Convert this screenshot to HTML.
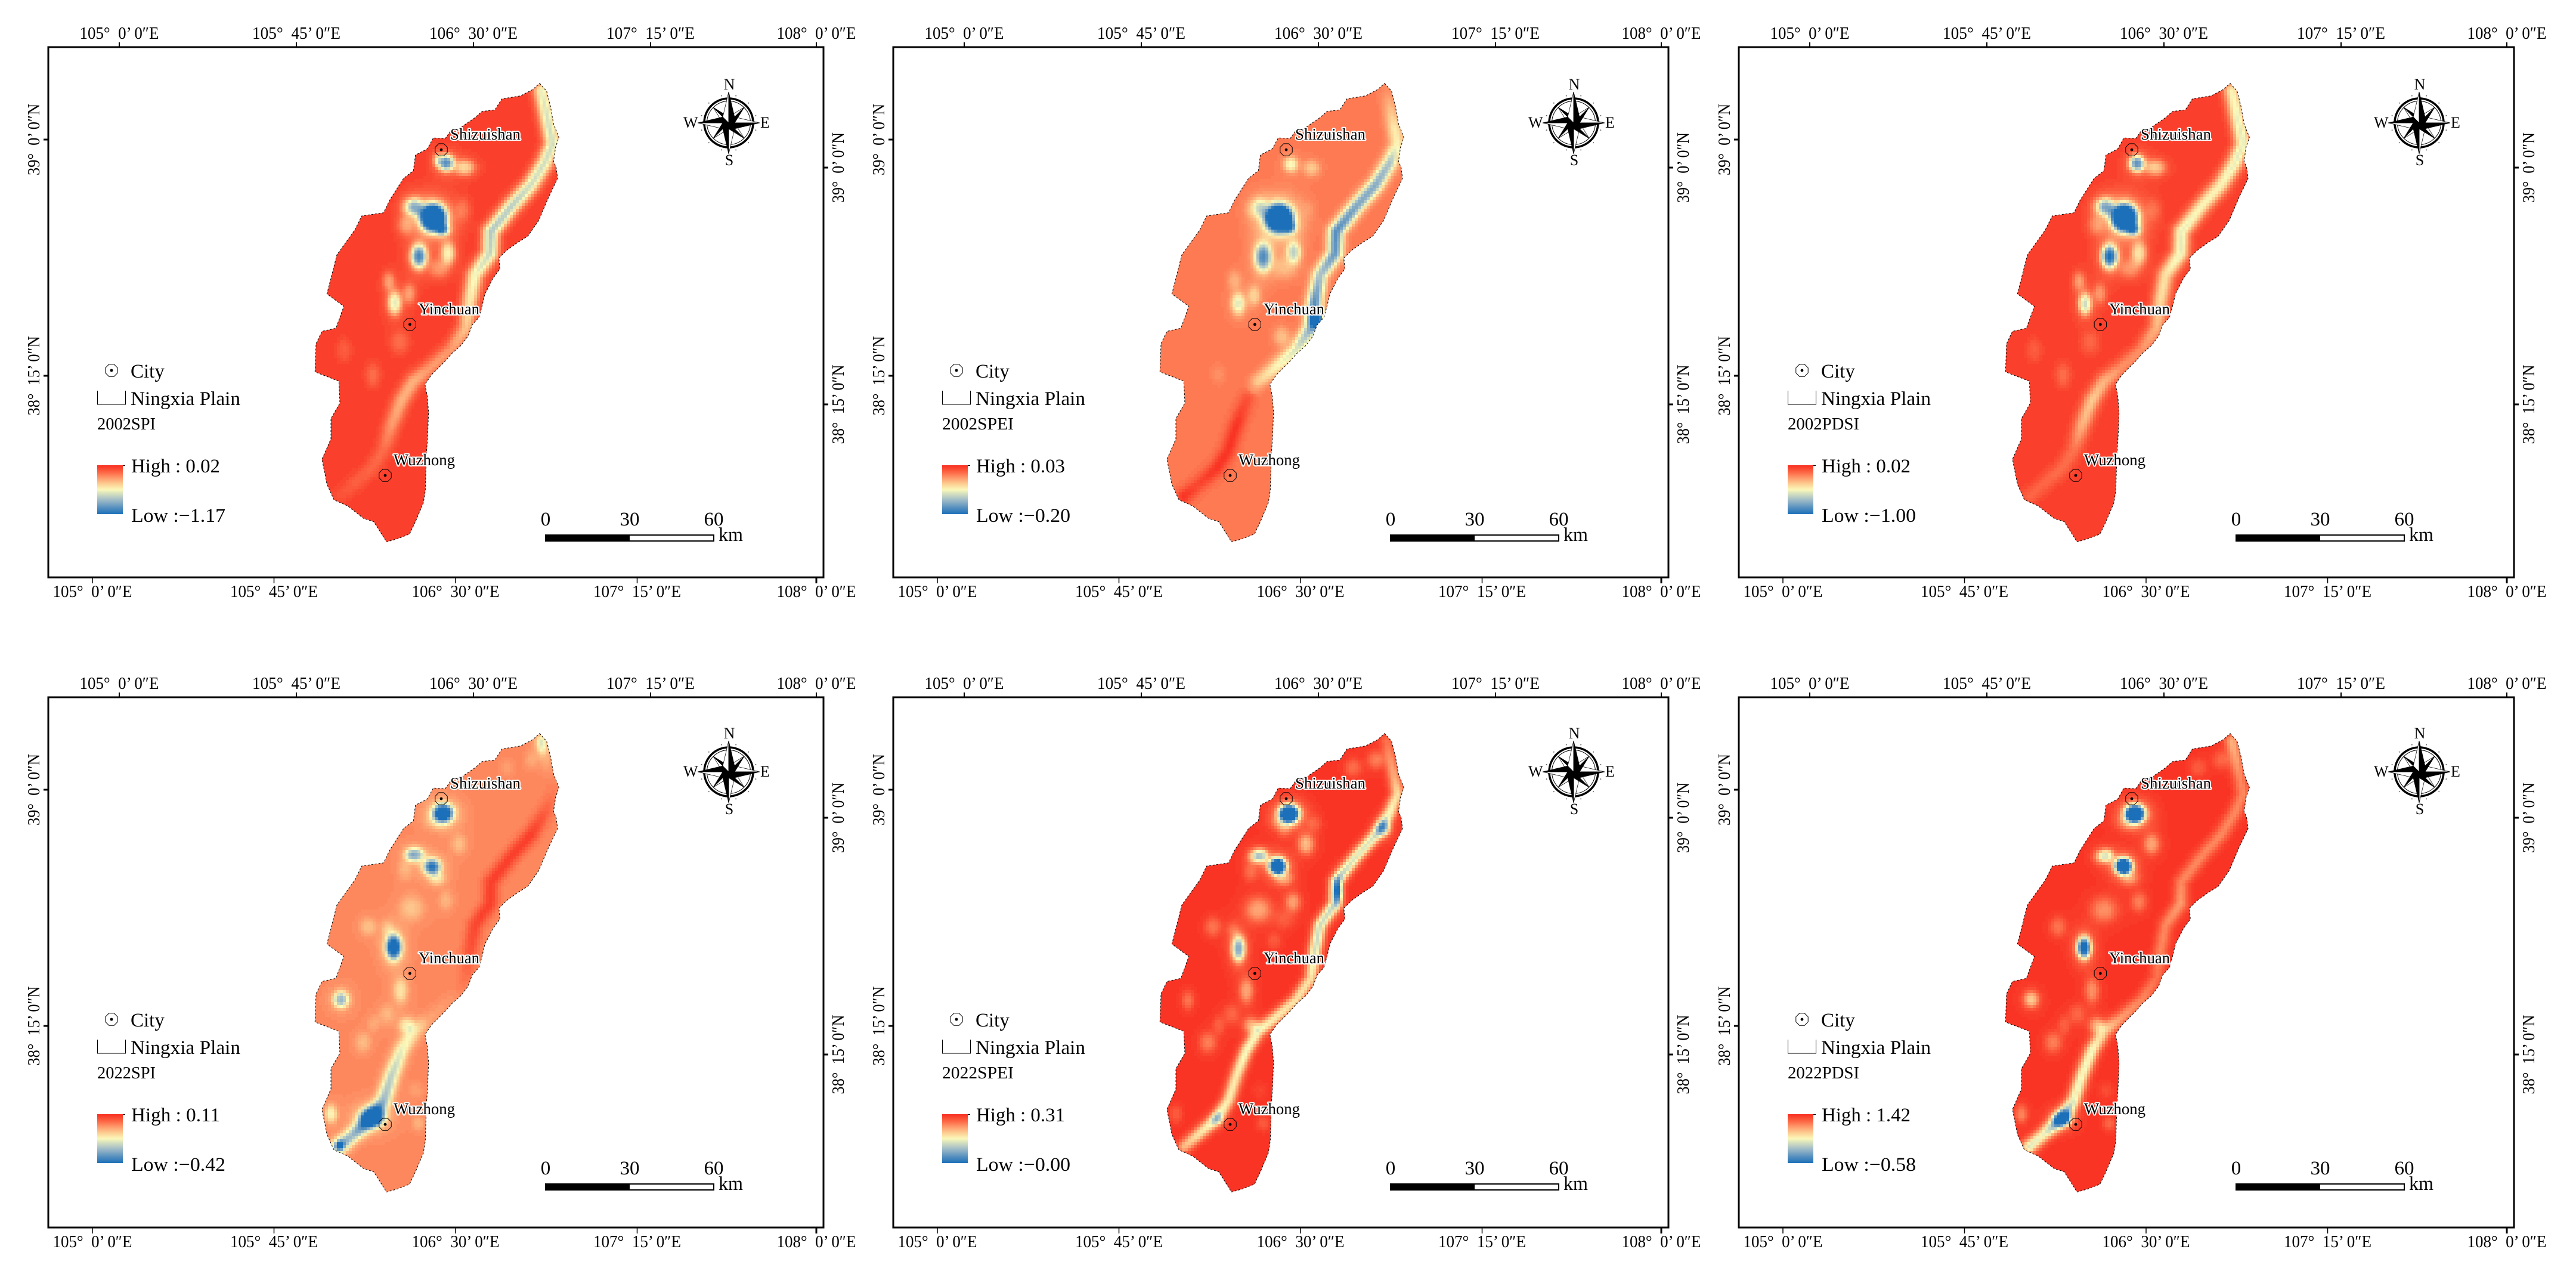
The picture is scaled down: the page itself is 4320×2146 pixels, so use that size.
<!DOCTYPE html>
<html lang="en">
<head>
<meta charset="utf-8">
<title>Ningxia Plain drought index maps, 2002 and 2022</title>
<style>
html,body{margin:0;padding:0;background:#fff;width:4320px;height:2146px;overflow:hidden}
svg{display:block}
text{font-family:"Liberation Serif","DejaVu Serif",serif;fill:#000}
</style>
</head>
<body>
<svg id="figure" xmlns="http://www.w3.org/2000/svg" width="4320" height="2146" viewBox="0 0 4320 2146"></svg>
<script>
// ---- panel labels and legend values ----
const panelTitles = ["2002SPI","2002SPEI","2002PDSI","2022SPI","2022SPEI","2022PDSI"];
const highLabels = ["0.02","0.03","0.02","0.11","0.31","1.42"];
const lowLabels = ["\u22121.17","\u22120.20","\u22121.00","\u22120.42","\u22120.00","\u22120.58"];
const topLongitudes = [105,105.75,106.5,107.25,108];
const bottomLongitudes = [105,105.75,106.5,107.25,108];
const latitudes = [39,38.25];
const lonLabels = ["105\u00b0\u00a0\u00a00\u2019 0\u2033E","105\u00b0\u00a0\u00a045\u2019 0\u2033E","106\u00b0\u00a0\u00a030\u2019 0\u2033E","107\u00b0\u00a0\u00a015\u2019 0\u2033E","108\u00b0\u00a0\u00a00\u2019 0\u2033E"];
const latLabels = ["39\u00b0\u00a0\u00a00\u2019 0\u2033N","38\u00b0\u00a0\u00a015\u2019 0\u2033N"];
const scaleLabels = ["0","30","60"];
const scaleKm = [0,30,60];

// ---- map geometry in raster grid units (column, row) ----
const plainOutline = [[1275,95],[1310,120],[1330,170],[1345,225],[1372,268],[1355,300],[1345,345],[1358,365],[1365,400],[1320,460],[1290,505],[1270,535],[1215,585],[1165,605],[1110,630],[1070,655],[1075,690],[1040,720],[1000,770],[985,810],[970,845],[935,870],[915,905],[880,935],[835,960],[800,985],[730,1030],[698,1060],[710,1100],[716,1150],[712,1220],[705,1290],[700,1400],[690,1440],[650,1500],[620,1540],[560,1555],[505,1565],[470,1530],[440,1500],[390,1490],[310,1450],[240,1430],[205,1380],[180,1300],[225,1235],[225,1170],[270,1120],[265,1050],[225,1040],[145,1020],[150,930],[180,890],[250,880],[290,810],[205,770],[255,645],[345,565],[380,520],[490,510],[520,470],[590,400],[640,375],[650,325],[710,305],[740,270],[800,272],[830,245],[870,240],[950,205],[985,185],[1050,180],[1085,145],[1180,135],[1240,115]];
const riverCourse = [[1285,120],[1325,240],[1340,290],[1300,350],[1230,420],[1130,490],[1030,570],[1025,640],[950,710],[925,790],[905,880],[830,950],[720,1010],[640,1050],[580,1110],[530,1190],[490,1270],[430,1330],[330,1385],[265,1420]];
const cityNames = ["Shizuishan","Yinchuan","Wuzhong"];
const cityColumns = [780,622,498];
const cityRows = [308,868,1352];

// ---- raster values: background level, river anomaly per vertex, station anomalies ----
// level 1 = high (red), 0.5 = mid (yellow), 0 = low (blue)
const baseLevels = [0.96,0.815,0.96,0.78,0.985,0.985];
const riverWidths = [14,13,14,13,11,12];
const riverDepth2002SPI = [0.5,0.55,0.55,0.55,0.55,0.6,0.62,0.58,0.48,0.42,0.32,0.22,0.22,0.28,0.28,0.22,0.12,0.1,0.08,0.05];
const riverDepth2002SPEI = [0.05,0.28,0.3,0.5,0.58,0.6,0.68,0.65,0.5,0.65,0.55,0.38,0.3,0.2,-0.1,-0.17,-0.17,-0.17,-0.12,-0.17];
const riverDepth2002PDSI = [0.45,0.5,0.5,0.5,0.45,0.45,0.5,0.5,0.4,0.38,0.28,0.2,0.2,0.28,0.33,0.28,0.13,0.12,0.1,0.1];
const riverDepth2022SPI = [0.15,0,-0.03,-0.1,-0.18,-0.18,-0.18,-0.18,-0.16,-0.13,-0.05,0.03,0.06,0.22,0.32,0.42,0.48,0.65,0.48,0.55];
const riverDepth2022SPEI = [0.15,0.3,0.42,0.48,0.55,0.55,0.6,0.6,0.58,0.58,0.42,0.42,0.45,0.45,0.5,0.45,0.45,0.5,0.42,0.32];
const riverDepth2022PDSI = [0.3,0.2,0.2,0.2,0.2,0.2,0.2,0.25,0.2,0.2,0.15,0.2,0.25,0.35,0.5,0.5,0.52,0.7,0.5,0.55];
const stations2002SPI = [[740,525,62,42,1.7],[790,565,32,18,0.55],[805,350,40,26,0.8],[900,365,50,25,0.35],[760,340,20,20,0.25],[650,490,38,28,0.5],[610,490,35,28,0.22],[668,650,40,38,0.85],[815,640,36,36,0.42],[770,690,50,30,0.18],[545,800,35,38,0.5],[515,730,30,30,0.22],[620,770,32,32,0.22],[890,500,36,36,0.12],[290,950,36,36,0.08],[435,1030,36,36,0.12],[570,925,45,35,0.12],[600,550,40,30,0.18]];
const stations2002SPEI = [[744,527,65,42,1.6],[799,557,30,18,0.45],[804,355,35,24,0.32],[909,367,40,24,0.18],[649,492,35,30,0.28],[609,497,35,30,0.1],[664,652,42,45,0.68],[819,637,35,35,0.42],[769,687,60,35,0.13],[539,802,35,35,0.36],[519,727,32,30,0.12],[619,777,32,32,0.2],[759,907,40,30,0.16],[439,1027,36,30,0.05],[894,497,30,30,0.04],[934,852,30,28,0.7]];
const stations2002PDSI = [[742,525,62,42,1.7],[790,565,32,18,0.55],[805,352,38,26,0.8],[900,365,50,25,0.32],[650,490,38,28,0.55],[610,490,35,28,0.18],[668,650,40,38,0.95],[815,640,38,38,0.38],[770,690,50,30,0.18],[545,803,33,35,0.55],[515,730,30,30,0.22],[620,770,32,32,0.2],[890,500,36,36,0.1],[290,950,36,36,0.08],[435,1030,36,36,0.12],[570,925,45,35,0.1],[600,550,40,30,0.16]];
const stations2022SPI = [[790,350,50,28,1.0],[770,375,60,25,0.13],[650,483,42,22,0.5],[615,485,25,20,0.13],[735,522,42,25,0.75],[760,560,40,20,0.18],[870,450,38,30,0.12],[595,535,35,30,0.09],[630,655,60,40,0.14],[805,630,35,30,0.1],[410,715,40,28,0.13],[540,780,38,38,1.0],[510,720,30,25,0.1],[275,948,38,26,0.5],[575,920,35,40,0.22],[385,1085,38,30,0.12],[505,995,40,30,0.1],[440,1025,30,25,0.07],[605,1030,40,25,0.22],[225,1315,30,28,0.27],[665,1345,30,22,0.1],[650,1240,35,25,0.05],[1230,180,30,25,0.07],[1110,205,30,25,0.05],[1285,130,25,30,0.2],[430,1325,60,30,0.85],[270,1415,20,15,0.35]];
const stations2022SPEI = [[795,352,50,28,1.4],[770,380,60,25,0.18],[880,450,40,32,0.32],[920,385,35,25,0.1],[770,405,30,25,0.1],[650,487,38,22,0.6],[610,490,30,22,0.18],[738,520,42,26,1.4],[770,560,45,22,0.22],[600,540,35,28,0.13],[640,660,65,40,0.27],[815,635,38,30,0.25],[410,715,40,30,0.16],[770,690,50,30,0.09],[540,785,35,42,0.75],[510,725,30,25,0.1],[720,760,35,25,0.09],[285,950,30,28,0.16],[580,920,35,40,0.27],[385,1085,42,32,0.18],[505,995,40,30,0.12],[440,1030,30,30,0.1],[605,1030,40,25,0.27],[225,1315,30,28,0.1],[665,1345,30,22,0.1],[650,1240,35,25,0.04],[1230,180,40,28,0.18],[1115,205,40,28,0.14],[1040,600,20,40,0.5],[1270,400,35,25,0.45],[430,1330,30,20,0.25]];
const stations2022PDSI = [[795,352,50,28,1.4],[770,380,60,25,0.18],[650,487,38,22,0.5],[610,490,30,22,0.13],[738,520,42,26,1.4],[770,560,45,22,0.18],[540,782,35,35,1.1],[275,948,38,26,0.36],[430,1330,45,25,0.75],[880,450,40,32,0.27],[640,660,65,40,0.22],[815,635,38,30,0.18],[410,715,40,30,0.16],[580,920,35,40,0.22],[385,1085,42,32,0.18],[505,995,40,30,0.12],[440,1030,30,30,0.1],[605,1030,40,25,0.27],[225,1315,30,28,0.2],[665,1345,30,22,0.13],[650,1240,35,25,0.06],[1230,180,40,28,0.12],[1115,205,40,28,0.1]];
const riverDepths = [riverDepth2002SPI,riverDepth2002SPEI,riverDepth2002PDSI,riverDepth2022SPI,riverDepth2022SPEI,riverDepth2022PDSI];
const stationSets = [stations2002SPI,stations2002SPEI,stations2002PDSI,stations2022SPI,stations2022SPEI,stations2022PDSI];

// ---- colour ramp ----
const rampLevels = [0,0.12,0.3,0.42,0.5,0.62,0.75,0.85,1];
const rampColors = [[28,112,185],[80,140,190],[165,190,200],[215,225,190],[251,248,186],[253,205,145],[254,150,105],[253,105,70],[248,46,32]];

// ---- layout functions ----
const NS = "http://www.w3.org/2000/svg";
const svg = document.getElementById("figure");
const gx = col => 480 + col / 3;
const gy = row => 90 + row / 1.912;
const topX = lon => Math.min(1369, 200 + (lon - 105) * 396);
const bottomX = lon => Math.min(1369, 155 + (lon - 105) * 406);
const leftY = lat => 234 + (39 - lat) * 528;
const rightY = lat => 281 + (39 - lat) * 529.3;
const scaleX = km => 915 + km * 4.7;

function make(tag, attrs, parent) {
  const el = document.createElementNS(NS, tag);
  for (const k in attrs) el.setAttribute(k, attrs[k]);
  parent.appendChild(el);
  return el;
}
function addText(parent, str, x, y, size, len, anchor) {
  const attrs = {x: x, y: y, "font-size": size, "text-anchor": anchor || "start"};
  if (len) { attrs.textLength = len; attrs.lengthAdjust = "spacingAndGlyphs"; }
  const el = make("text", attrs, parent);
  el.textContent = str;
  return el;
}
function rampColor(t) {
  t = Math.max(0, Math.min(1, t));
  for (let i = 1; i < rampLevels.length; i++) {
    if (t <= rampLevels[i]) {
      const f = (t - rampLevels[i - 1]) / (rampLevels[i] - rampLevels[i - 1]);
      const a = rampColors[i - 1], b = rampColors[i];
      return "rgb(" + Math.round(a[0] + (b[0] - a[0]) * f) + "," + Math.round(a[1] + (b[1] - a[1]) * f) + "," + Math.round(a[2] + (b[2] - a[2]) * f) + ")";
    }
  }
  return "rgb(248,46,32)";
}
function stationFalloff(r) { return 0.82 * Math.exp(-Math.pow(r, 2.6)) + 0.18 * Math.exp(-Math.pow(r / 1.7, 2)); }
function riverFalloff(r) { return Math.exp(-r * r); }
function fieldAt(col, row, p) {
  let t = baseLevels[p];
  const stations = stationSets[p];
  for (const s of stations) {
    const r = Math.hypot((col - s[0]) / s[2], (row - s[1]) / s[3]);
    if (r < 4) t -= s[4] * stationFalloff(r);
  }
  const depth = riverDepths[p], w = riverWidths[p];
  const px = col / 3, py = row / 1.912;
  let best = 0;
  for (let i = 0; i < riverCourse.length - 1; i++) {
    const ax = riverCourse[i][0] / 3, ay = riverCourse[i][1] / 1.912;
    const bx = riverCourse[i + 1][0] / 3, by = riverCourse[i + 1][1] / 1.912;
    const vx = bx - ax, vy = by - ay;
    let u = ((px - ax) * vx + (py - ay) * vy) / (vx * vx + vy * vy);
    u = Math.max(0, Math.min(1, u));
    const d = Math.hypot(px - ax - u * vx, py - ay - u * vy);
    if (d > w * 3) continue;
    const c = (depth[i] + (depth[i + 1] - depth[i]) * u) * riverFalloff(d / w);
    if (Math.abs(c) > Math.abs(best)) best = c;
  }
  return t - best;
}

// ---- shared defs ----
const defs = make("defs", {}, svg);
const colorbarGradient = make("linearGradient", {id: "ramp", x1: 0, y1: 0, x2: 0, y2: 1}, defs);
for (let i = rampLevels.length - 1; i >= 0; i--) {
  const c = rampColors[i];
  make("stop", {offset: 1 - rampLevels[i], "stop-color": "rgb(" + c.join(",") + ")"}, colorbarGradient);
}
const clip = make("clipPath", {id: "plain-clip"}, defs);
const outlinePoints = plainOutline.map(v => gx(v[0]).toFixed(1) + "," + gy(v[1]).toFixed(1)).join(" ");
make("polygon", {points: outlinePoints}, clip);

function octagon(cx, cy, r) {
  const pts = [];
  for (let i = 0; i < 8; i++) {
    const a = Math.PI / 8 + i * Math.PI / 4;
    pts.push((cx + r * Math.cos(a)).toFixed(1) + "," + (cy + r * Math.sin(a)).toFixed(1));
  }
  return pts.join(" ");
}

function drawCompass(parent, cx, cy) {
  const g = make("g", {}, parent);
  
  
  make("circle", {cx: cx, cy: cy, r: 41, fill: "none", stroke: "#000", "stroke-width": 3.5}, g);
  make("circle", {cx: cx, cy: cy, r: 36.5, fill: "none", stroke: "#000", "stroke-width": 1}, g);
  for (let i = 0; i < 12; i++) {
    const a = i * Math.PI / 6 + Math.PI / 12;
    make("circle", {cx: cx + 47 * Math.cos(a), cy: cy + 47 * Math.sin(a), r: 1, fill: "#666"}, g);
  }
  for (let i = 7; i >= 0; i--) {
    const a = i * Math.PI / 4 - Math.PI / 2;
    const len = i % 2 ? 37 : 52;
    const waist = i % 2 ? 10 : 14;
    const tipX = cx + len * Math.cos(a), tipY = cy + len * Math.sin(a);
    const lx = cx + waist * Math.cos(a - Math.PI / 4), ly = cy + waist * Math.sin(a - Math.PI / 4);
    const rx = cx + waist * Math.cos(a + Math.PI / 4), ry = cy + waist * Math.sin(a + Math.PI / 4);
    make("polygon", {points: cx + "," + cy + " " + tipX + "," + tipY + " " + lx + "," + ly, fill: "#fff", stroke: "#000", "stroke-width": 0.7}, g);
    make("polygon", {points: cx + "," + cy + " " + tipX + "," + tipY + " " + rx + "," + ry, fill: "#000", stroke: "#000", "stroke-width": 0.7}, g);
  }
  const n = addText(g, "N", cx + 1, cy - 56, 26, 0, "middle");
  
  
  const s = addText(g, "S", cx + 1, cy + 71, 26, 0, "middle");
  
  
  const w = addText(g, "W", cx - 76, cy + 8, 26);
  
  
  const e = addText(g, "E", cx + 53, cy + 8, 26);
  
  
}

// ---- panels ----
const panelDx = [0,1417,2835];
const frameDy = [0,1090];
const overlayDy = [0,1088];
const CELL = 5;

panelTitles.forEach((title, p) => {
  const col = p % 3, rowIndex = Math.floor(p / 3);
  const panel = make("g", {transform: "translate(" + panelDx[col] + " 0)"}, svg);
  
  

  // map frame and graticule, shifted by row
  const frameG = make("g", {transform: "translate(0 " + frameDy[rowIndex] + ")"}, panel);
  
  
  const frame = make("rect", {x: 81, y: 79, width: 1300, height: 889, fill: "#fff", stroke: "#000", "stroke-width": 3}, frameG);
  
  

  topLongitudes.forEach((lon, i) => {
    const tick = make("line", {x1: topX(lon), x2: topX(lon), y1: 79, y2: 71, stroke: "#000", "stroke-width": 2}, frameG);
    
    
    const label = addText(frameG, lonLabels[i], topX(lon), 65, 28, (i === 0 || i === 4) ? 133 : 148, "middle");
    
    
  });
  bottomLongitudes.forEach((lon, i) => {
    const tick = make("line", {x1: bottomX(lon), x2: bottomX(lon), y1: 968, y2: 978, stroke: "#000", "stroke-width": i === 4 ? 3 : 1.5}, frameG);
    
    
    const label = addText(frameG, lonLabels[i], bottomX(lon), 1001, 28, (i === 0 || i === 4) ? 133 : 147, "middle");
    
    
  });
  latitudes.forEach((lat, i) => {
    const ly = leftY(lat), ry = rightY(lat);
    const tickL = make("line", {x1: 81, x2: 73, y1: ly, y2: ly, stroke: "#000", "stroke-width": 3}, frameG);
    
    
    const labelL = addText(frameG, latLabels[i], 0, 0, 28, i ? 133 : 120, "middle");
    labelL.setAttribute("transform", "translate(66 " + ly + ") rotate(-90)");
    
    
    const tickR = make("line", {x1: 1381, x2: 1389, y1: ry, y2: ry, stroke: "#000", "stroke-width": 3}, frameG);
    
    
    const labelR = addText(frameG, latLabels[i], 0, 0, 28, i ? 133 : 118, "middle");
    labelR.setAttribute("transform", "translate(1415 " + ry + ") rotate(-90)");
    
    
  });

  // raster heatmap, one path per quantised colour band
  const raster = make("g", {"clip-path": "url(#plain-clip)", "shape-rendering": "crispEdges"}, frameG);
  
  
  const BANDS = 64;
  const bandPaths = new Array(BANDS + 1).fill("");
  for (let y = 125; y < 925; y += CELL) {
    for (let x = 520; x < 955; x += CELL) {
      const c = (x + CELL / 2 - 480) * 3, r = (y + CELL / 2 - 90) * 1.912;
      const t = Math.max(0, Math.min(1, fieldAt(c, r, p)));
      const b = Math.round(t * BANDS);
      bandPaths[b] += "M" + x + " " + y + "h" + CELL + "v" + CELL + "h-" + CELL + "z";
    }
  }
  bandPaths.forEach((d, b) => {
    if (!d) return;
    const band = make("path", {d: d, fill: rampColor(b / BANDS)}, raster);
    
    
  });
  const outline = make("polygon", {points: outlinePoints, fill: "none", stroke: "#000", "stroke-width": 1, "stroke-dasharray": "3 3"}, frameG);
  
  

  // overlay: cities, legend, compass, scale bar
  const overlay = make("g", {transform: "translate(0 " + overlayDy[rowIndex] + ")"}, panel);
  
  

  const cityLabelX = [755,702,660];
  const cityLabelY = [234,527,780];
  const cityLabelW = [118,102,103];
  cityNames.forEach((name, i) => {
    const cx = gx(cityColumns[i]), cy = gy(cityRows[i]);
    const marker = make("polygon", {points: octagon(cx, cy, 11), fill: "none", stroke: "#000", "stroke-width": 1}, overlay);
    
    
    const dot = make("circle", {cx: cx, cy: cy, r: 2.4, fill: "#000"}, overlay);
    
    
    const label = addText(overlay, name, cityLabelX[i], cityLabelY[i], 27, cityLabelW[i]);
    label.setAttribute("style", "paint-order:stroke;stroke:#fff;stroke-width:4px;stroke-linejoin:round");
    
    
  });

  const legend = make("g", {}, overlay);
  
  
  const legendCity = make("polygon", {points: octagon(187, 621, 11), fill: "none", stroke: "#000", "stroke-width": 1}, legend);
  
  
  const legendDot = make("circle", {cx: 187, cy: 621, r: 2.4, fill: "#000"}, legend);
  
  
  const cityText = addText(legend, "City", 219, 633, 33);
  
  
  const plainSym = make("path", {d: "M163.5 655V678H210.5V655", fill: "none", stroke: "#000", "stroke-width": 1}, legend);
  
  
  const plainText = addText(legend, "Ningxia Plain", 219, 679, 33, 184);
  
  
  const titleText = addText(legend, title, 163, 720, 29, col === 0 ? 98 : 120);
  
  
  const bar = make("rect", {x: 163, y: 780, width: 43, height: 82, fill: "url(#ramp)"}, legend);
  
  
  const barTick = make("line", {x1: 206, x2: 210, y1: 780.5, y2: 780.5, stroke: "#000", "stroke-width": 1}, legend);
  
  
  const hi = addText(legend, "High : " + highLabels[p], 220, 792, 33, 149);
  
  
  const lo = addText(legend, "Low :" + lowLabels[p], 220, 875, 33, 158);
  
  

  drawCompass(overlay, 1222, 206);

  const scaleBar = make("g", {}, overlay);
  
  
  const whiteSeg = make("rect", {x: scaleX(0), y: 897, width: scaleX(60) - scaleX(0), height: 10, fill: "#fff", stroke: "#000", "stroke-width": 2}, scaleBar);
  
  
  const blackSeg = make("rect", {x: scaleX(0), y: 896, width: scaleX(30) - scaleX(0), height: 12, fill: "#000"}, scaleBar);
  
  
  scaleKm.forEach((km, i) => {
    const t = addText(scaleBar, scaleLabels[i], scaleX(km), 881, 33, 0, "middle");
    
    
  });
  const kmText = addText(scaleBar, "km", 1205, 907, 33, 41);
  
  
});
</script>
</body>
</html>
